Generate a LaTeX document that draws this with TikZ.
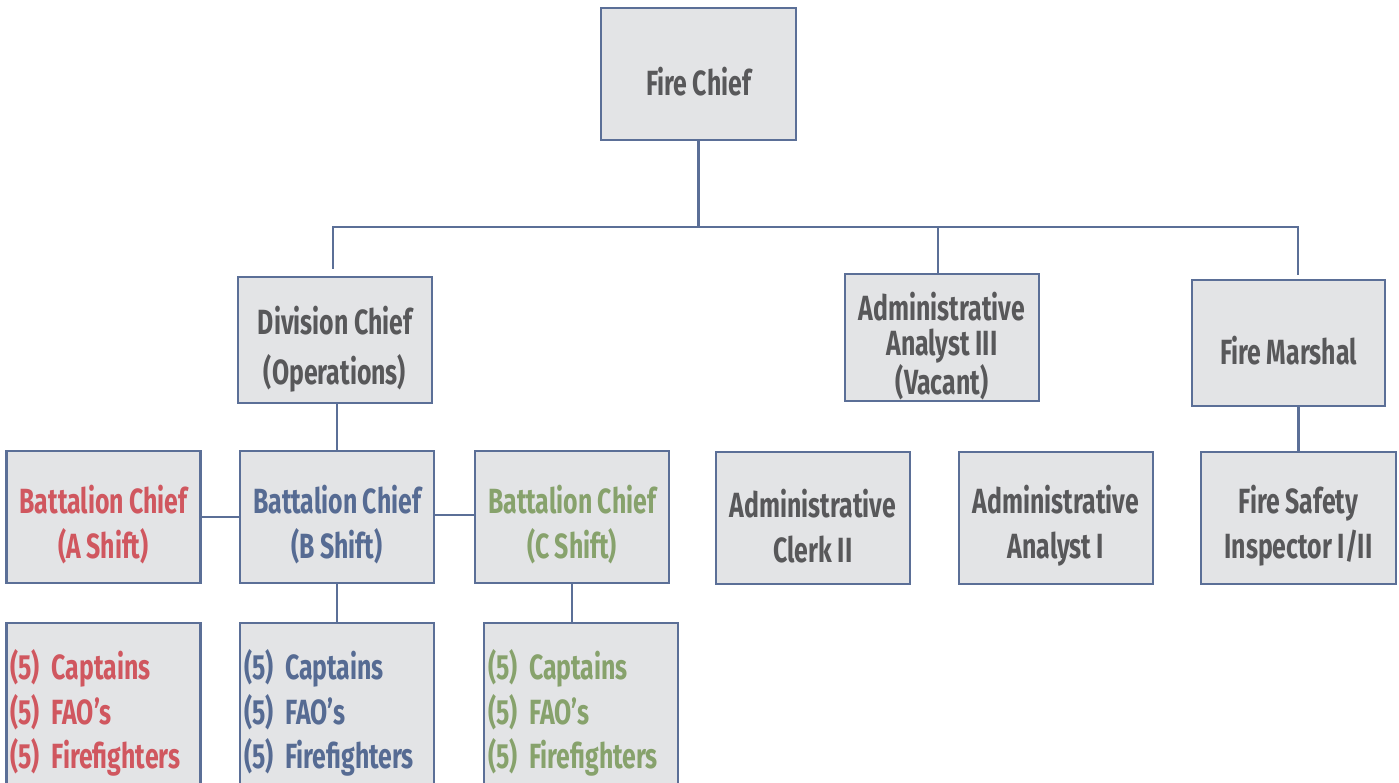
\documentclass[tikz,border=0pt]{standalone}
\usepackage{fontspec}
\setmainfont{Fira Sans}[FakeStretch=0.71]
\usetikzlibrary{calc}
\definecolor{bordc}{HTML}{5B6F97}
\definecolor{boxc}{HTML}{E3E4E6}
\definecolor{txtc}{HTML}{58585A}
\definecolor{redc}{HTML}{D0575F}
\definecolor{bluec}{HTML}{566B93}
\definecolor{greenc}{HTML}{87A26C}
\newcommand{\orgfont}[1]{\fontsize{35}{#1}\selectfont\bfseries\spaceskip=5.5pt\relax}
\begin{document}
\begin{tikzpicture}[x=1pt,y=-1pt,
  orgbox/.style={draw=bordc, fill=boxc, line width=2.6pt, inner sep=0pt,
    minimum width=194pt, minimum height=132pt},
  lbl/.style={inner sep=0pt, align=center, text=txtc, font=\orgfont{45}},
  crewbox/.style={draw=bordc, fill=boxc, line width=2.6pt, inner sep=0pt,
    minimum width=194pt, minimum height=180pt, text width=186pt, align=left,
    font=\orgfont{44.5}},
  link/.style={draw=bordc, line width=2.4pt}]
\useasboundingbox (0,0) rectangle (1399,783);
\clip (0,0) rectangle (1399,783);

% boxes
\node[orgbox, minimum width=195pt] (fc) at (698.5,74) {};
\node[orgbox, minimum height=126pt] (dc) at (335,340) {};
\node[orgbox, minimum height=127pt] (aa3) at (942,337.5) {};
\node[orgbox, minimum width=193pt, minimum height=126pt] (fm) at (1288.5,343) {};
\node[orgbox] (ba) at (103.5,517) {};
\node[orgbox] (bb) at (337,517) {};
\node[orgbox] (bc) at (572,517) {};
\node[orgbox] (clerk) at (813,518) {};
\node[orgbox] (an1) at (1056,518) {};
\node[orgbox, minimum width=195pt] (fsi) at (1298.5,518) {};

% texts
\node[lbl] (fct) at ($(fc)+(0,8)$) {Fire Chief};
\node[lbl, font=\orgfont{50}] (dct) at ($(dc)+(0,9)$) {Division Chief\\(Operations)};
\node[lbl, font=\orgfont{35}] (aa3t) at ($(aa3)+(0,9)$) {Administrative\\Analyst III\\(Vacant)};
\node[lbl] (fmt) at ($(fm)+(0,8)$) {Fire Marshal};
\node[lbl, text=redc] (bat) at ($(ba)+(0,8)$) {Battalion Chief\\(A Shift)};
\node[lbl, text=bluec] (bbt) at ($(bb)+(0,8)$) {Battalion Chief\\(B Shift)};
\node[lbl, text=greenc] (bct) at ($(bc)+(0,8)$) {Battalion Chief\\(C Shift)};
\node[lbl] (clerkt) at ($(clerk)+(0,8)$) {Administrative\\Clerk II};
\node[lbl] (an1t) at ($(an1)+(0,8)$) {Administrative\\Analyst I};
\node[lbl] (fsit) at ($(fsi)+(0,8)$) {Fire Safety\\Inspector I/II};

\node[crewbox, text=redc] (ca) at (103.5,713) {(5) Captains\\(5) FAO’s\\(5) Firefighters};
\node[crewbox, text=bluec] (cb) at (337,713) {(5) Captains\\(5) FAO’s\\(5) Firefighters};
\node[crewbox, text=greenc] (cc) at (581,713) {(5) Captains\\(5) FAO’s\\(5) Firefighters};

% connectors
\coordinate (busL) at (333,227);
\coordinate (busM) at (938,227);
\coordinate (busR) at (1298,227);
\coordinate (dcEnd) at ($(busL |- dc.north)+(0,-7)$);
\coordinate (fmEnd) at ($(busR |- fm.north)+(0,-4)$);

\draw[link] (fc.south) -- (fc.south |- busL);
\draw[link] (dcEnd) -- (busL) -- (busR) -- (fmEnd);
\draw[link] (busM) -- (busM |- aa3.north);

\draw[link] (bb.north) -- (bb.north |- dc.south);
\draw[link] (ba.east) -- (ba.east -| bb.west);
\draw[link] ([yshift=2pt]bb.east) -- ([yshift=2pt]bb.east -| bc.west);
\draw[link] (bb.south) -- (bb.south |- cb.north);
\draw[link] (bc.south) -- (bc.south |- cc.north);

\draw[link] ($(aa3.south)+(-76,0)$) -- ($(aa3.south)+(-76,0)$ |- clerk.north);
\draw[link] ($(aa3.south)+(75,0)$) -- ($(aa3.south)+(75,0)$ |- an1.north);
\draw[link] (fsi.north) -- (fsi.north |- fm.south);
\end{tikzpicture}
\end{document}
